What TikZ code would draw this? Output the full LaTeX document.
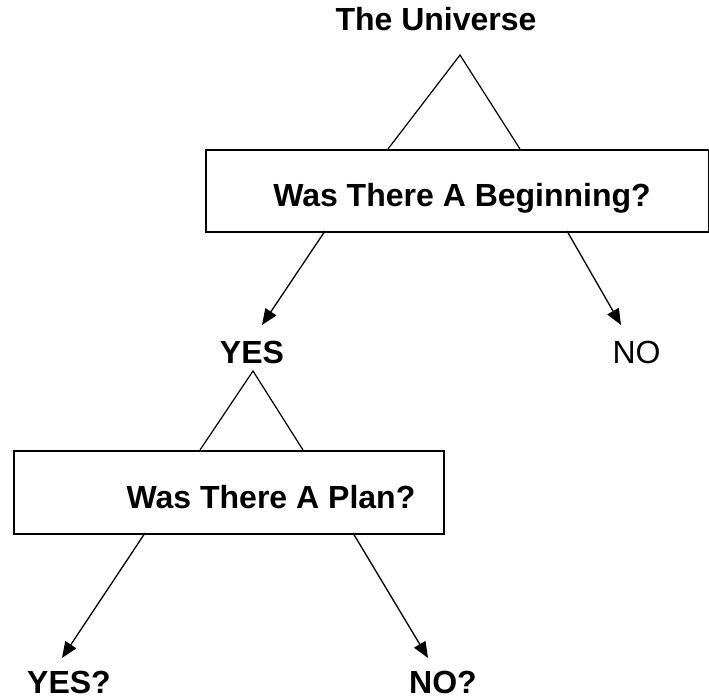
\documentclass[tikz,border=0pt]{standalone}
\usepackage{fontspec}
\setmainfont{Liberation Sans}
\usetikzlibrary{arrows.meta,positioning}

\begin{document}
\begin{tikzpicture}[
  x=1pt,y=-1pt,
  every node/.style={font=\fontsize{32}{38}\selectfont\bfseries,inner sep=0pt},
  qbox/.style={draw,line width=1.6pt,rectangle,anchor=north west},
  tri/.style={line width=1.2pt,line join=miter},
  arr/.style={-{Triangle[length=16pt,width=13pt]},line width=1.3pt}
]
\useasboundingbox (0,0) rectangle (709,700);
% first question
\node[anchor=base] (universe) at (436,31) {The Universe};
\node[qbox,minimum width=503pt,minimum height=82pt] (beginbox) at (205,149) {};
\node[anchor=base] (begin) at (462,207) {Was There A Beginning?};
\coordinate (apex1) at (460,55);
\coordinate (tri1l) at (388,149);
\coordinate (tri1r) at (520,149);
\draw[tri] (tri1l) -- (apex1) -- (tri1r);
\node[anchor=base] (yes1) at (252,363) {YES};
\node[anchor=base,font=\fontsize{32}{38}\selectfont] (no1) at (636.5,363) {NO};
\coordinate (out1l) at (325,231);
\coordinate (out1r) at (567,231);
\coordinate (tip1l) at (262,325);
\coordinate (tip1r) at (621,325);
\draw[arr] (out1l) -- (tip1l);
\draw[arr] (out1r) -- (tip1r);
% second question
\node[qbox,minimum width=430pt,minimum height=83pt] (planbox) at (13,450) {};
\node[anchor=base] (plan) at (271,508) {Was There A Plan?};
\coordinate (apex2) at (253,371);
\coordinate (tri2l) at (200,450);
\coordinate (tri2r) at (303,450);
\draw[tri] (tri2l) -- (apex2) -- (tri2r);
\node[anchor=base] (yes2) at (69,693) {YES?};
\node[anchor=base] (no2) at (443,693) {NO?};
\coordinate (out2l) at (145,533);
\coordinate (out2r) at (353,533);
\coordinate (tip2l) at (62,658);
\coordinate (tip2r) at (428,658);
\draw[arr] (out2l) -- (tip2l);
\draw[arr] (out2r) -- (tip2r);
\end{tikzpicture}
\end{document}
